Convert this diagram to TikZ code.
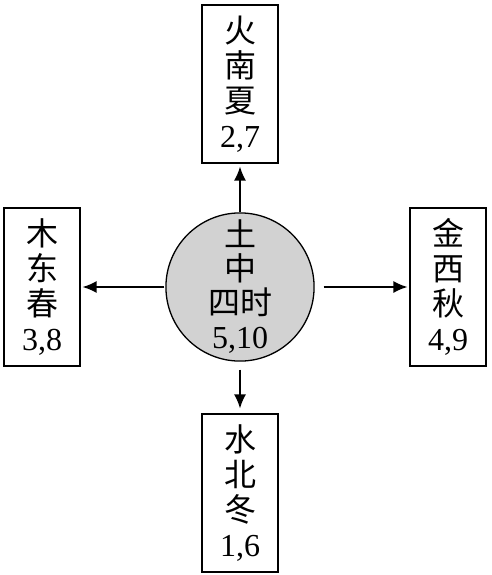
\documentclass[tikz,border=0pt]{standalone}
\usepackage{fontspec}
\setmainfont{Liberation Serif}
\newfontfamily\cjk{Noto Sans CJK SC}
\usetikzlibrary{arrows.meta,positioning}
\tikzset{
    phasebox/.style={draw, line width=1.3pt, minimum width=76pt, minimum height=158pt,
        align=center, inner sep=0pt, font=\fontsize{32}{35}\selectfont},
    earth/.style={circle, draw, line width=1.3pt, fill=gray!35, minimum size=148pt,
        align=center, inner sep=0pt, font=\fontsize{32}{34}\selectfont},
    flow/.style={-{Latex[length=14pt,width=12pt]}, line width=1.4pt}
}
\begin{document}
\begin{tikzpicture}[x=1pt,y=-1pt]
    \useasboundingbox (0,0) rectangle (492,575);

    % Centre: earth
    \node [earth] (zhong) at (240,287) {{\cjk 土}\\{\cjk 中}\\{\cjk 四时}\\5,10};

    % Four phases
    \node [phasebox] (huo) at (240,84)  {{\cjk 火}\\{\cjk 南}\\{\cjk 夏}\\2,7};
    \node [phasebox] (mu)  at (42,287)  {{\cjk 木}\\{\cjk 东}\\{\cjk 春}\\3,8};
    \node [phasebox] (jin) at (448,287) {{\cjk 金}\\{\cjk 西}\\{\cjk 秋}\\4,9};
    \node [phasebox] (shui) at (240,493) {{\cjk 水}\\{\cjk 北}\\{\cjk 冬}\\1,6};

    % Arrows
    \draw [flow, shorten >=3pt] (zhong.north) -- (huo.south);
    \draw [flow, shorten <=1pt, shorten >=2pt] (zhong.west) -- (mu.east);
    \draw [flow, shorten <=9pt, shorten >=2pt] (zhong.east) -- (jin.west);
    \draw [flow, shorten <=8pt, shorten >=5pt] (zhong.south) -- (shui.north);
\end{tikzpicture}
\end{document}
